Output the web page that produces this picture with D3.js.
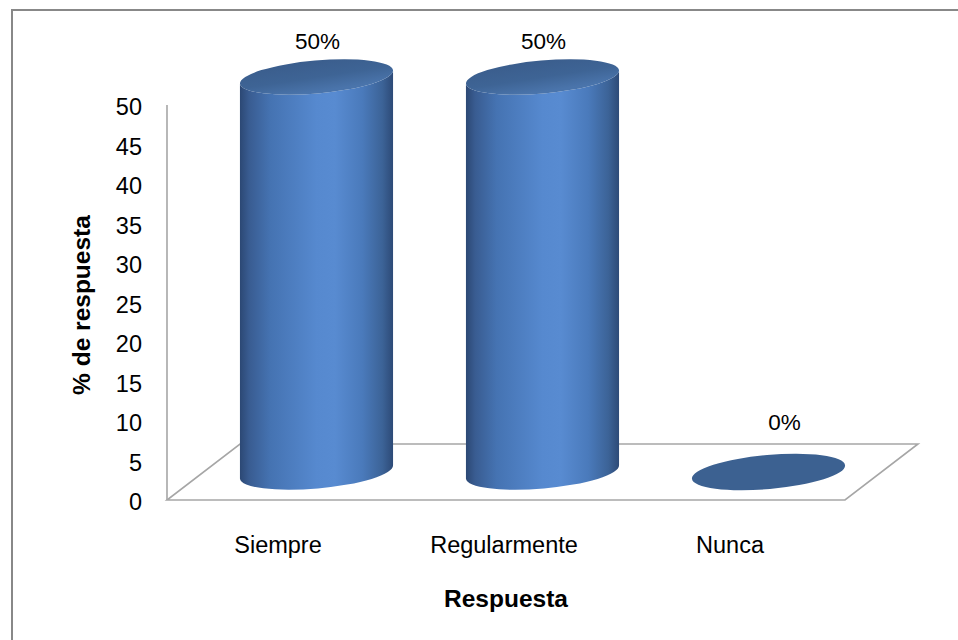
<!DOCTYPE html>
<html>
<head>
<meta charset="utf-8">
<script src="https://cdn.jsdelivr.net/npm/d3@7"></script>
<style>
  html, body { margin: 0; padding: 0; background: #fff; }
  svg { display: block; font-family: "Liberation Sans", Arial, sans-serif; }
</style>
</head>
<body>
<svg id="chart" width="958" height="640"></svg>
<script>
// Survey answers and their share of responses (%)
const categories = ["Siempre", "Regularmente", "Nunca"];
const values = [50, 50, 0];
const valueLabels = ["50%", "50%", "0%"];
const yTicks = [0, 5, 10, 15, 20, 25, 30, 35, 40, 45, 50];
const yTitle = "% de respuesta";
const xTitle = "Respuesta";

const svg = d3.select("#chart");

// Outer frame of the chart
svg.append("rect")
  .attr("x", 12).attr("y", 10)
  .attr("width", 980).attr("height", 680)
  .attr("fill", "#fff")
  .attr("stroke", "#888").attr("stroke-width", 2);

// Front plane of the 3D box and the depth offset of the oblique view
const x0 = 167, x1 = 845;
const depth = { dx: 73, dy: -56 };

const x = d3.scaleBand().domain(categories).range([x0, x1]);
const y = d3.scaleLinear().domain([0, 50]).range([500, 105]);

// Cylinder gradients
const defs = svg.append("defs");
const sideGrad = defs.append("linearGradient").attr("id", "side")
  .attr("x1", "0").attr("x2", "1").attr("y1", "0").attr("y2", "0");
[[0, "#2c4874"], [0.06, "#395c91"], [0.2, "#4573b2"], [0.5, "#5689cf"],
 [0.62, "#588bd1"], [0.8, "#4a7abb"], [0.93, "#3c6397"], [1, "#2d4a77"]]
  .forEach(([o, c]) => sideGrad.append("stop").attr("offset", o).attr("stop-color", c));
const capGrad = defs.append("linearGradient").attr("id", "topcap")
  .attr("x1", "0").attr("x2", "0.3").attr("y1", "0").attr("y2", "1");
[[0, "#3a5c8b"], [0.6, "#3e6495"], [1, "#4a74ab"]]
  .forEach(([o, c]) => capGrad.append("stop").attr("offset", o).attr("stop-color", c));

// Floor of the plot area
const floor = [
  [x0, y(0)], [x1, y(0)],
  [x1 + depth.dx, y(0) + depth.dy], [x0 + depth.dx, y(0) + depth.dy]
];
svg.append("path")
  .attr("d", d3.line()(floor) + "Z")
  .attr("fill", "#fff")
  .attr("stroke", "#a6a6a6").attr("stroke-width", 1.6);

// Left wall edge (value axis line)
svg.append("line")
  .attr("x1", x0).attr("x2", x0)
  .attr("y1", y(50)).attr("y2", y(0))
  .attr("stroke", "#a6a6a6").attr("stroke-width", 1.6);

// Value axis labels
const yAxis = svg.append("g")
  .attr("transform", `translate(${x0 - 25},2)`)
  .call(d3.axisLeft(y).tickValues(yTicks).tickSize(0).tickPadding(0));
yAxis.select(".domain").remove();
yAxis.selectAll("text")
  .attr("font-family", "Liberation Sans, Arial, sans-serif")
  .attr("font-size", 23.5).attr("fill", "#000");

// Cylinders
const rx = x.bandwidth() * 0.34, ry = 16.5, tilt = -5;
const t = tilt * Math.PI / 180;
const ex = rx * Math.cos(t), ey = rx * Math.sin(t);

const cyl = svg.append("g");
categories.forEach((c, i) => {
  const cx = x(c) + x.bandwidth() / 2 + depth.dx / 2;
  const yb = y(0) + depth.dy / 2;
  const yt = y(values[i]) + depth.dy / 2;
  const g = cyl.append("g");
  if (values[i] > 0) {
    const body = `M${cx - ex},${yt - ey} L${cx - ex},${yb - ey} ` +
      `A${rx},${ry} ${tilt} 0 0 ${cx + ex},${yb + ey} ` +
      `L${cx + ex},${yt + ey} ` +
      `A${rx},${ry} ${tilt} 0 1 ${cx - ex},${yt - ey} Z`;
    g.append("path").attr("d", body).attr("fill", "url(#side)");
    g.append("ellipse")
      .attr("cx", cx).attr("cy", yt).attr("rx", rx).attr("ry", ry)
      .attr("transform", `rotate(${tilt},${cx},${yt})`)
      .attr("fill", "url(#topcap)");
  } else {
    g.append("ellipse")
      .attr("cx", cx).attr("cy", yb).attr("rx", rx).attr("ry", ry + 0.5)
      .attr("transform", `rotate(${tilt},${cx},${yb})`)
      .attr("fill", "#3c6191");
  }
  // Data label above the mark
  const lx = values[i] > 0 ? cx + 1 : cx + 16;
  const ly = values[i] > 0 ? yt - 28 : yb - 42;
  svg.append("text")
    .attr("x", lx).attr("y", ly)
    .attr("text-anchor", "middle")
    .attr("font-size", 22.5).attr("fill", "#000")
    .text(valueLabels[i]);
});

// Category labels
svg.append("g").selectAll("text").data(categories).join("text")
  .attr("x", d => x(d) + x.bandwidth() / 2 - 2)
  .attr("y", 553)
  .attr("text-anchor", "middle")
  .attr("font-size", 23.5).attr("fill", "#000")
  .text(d => d);

// Axis titles
svg.append("text")
  .attr("x", 506).attr("y", 607)
  .attr("text-anchor", "middle")
  .attr("font-size", 24.5).attr("font-weight", "bold")
  .text(xTitle);
svg.append("text")
  .attr("transform", "translate(90,305) rotate(-90)")
  .attr("text-anchor", "middle")
  .attr("font-size", 24.5).attr("font-weight", "bold")
  .text(yTitle);
</script>
</body>
</html>
